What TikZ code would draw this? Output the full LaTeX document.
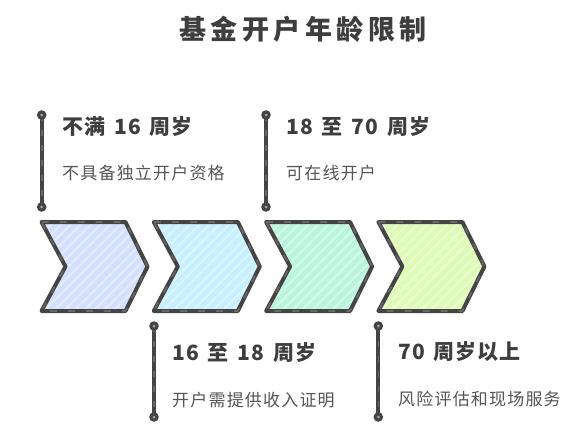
\documentclass[tikz,border=0pt]{standalone}
\usepackage{fontspec}
\setmainfont{Noto Sans CJK SC}
\newfontfamily\headfont[LetterSpace=5]{Noto Sans CJK SC}
\newfontfamily\subfont[LetterSpace=7]{Noto Sans CJK SC}
\usetikzlibrary{patterns.meta}
\definecolor{ink}{HTML}{444444}
\definecolor{inklight}{HTML}{686868}
\definecolor{txt}{HTML}{3E3E3E}
\definecolor{subtxt}{HTML}{555555}
\definecolor{cA}{HTML}{D3DFFF}
\definecolor{cB}{HTML}{C6EFFF}
\definecolor{cC}{HTML}{B8F5DC}
\definecolor{cD}{HTML}{DEFBB5}
\newcommand\gap{\hspace{9pt}}
\tikzset{
  chevline/.style={draw=ink, line width=4pt, line join=round, line cap=round},
  chevdash/.style={draw=inklight, line width=1.6pt, dash pattern=on 7pt off 11pt},
  barline/.style={draw=ink, line width=4pt},
  bardash/.style={draw=inklight, line width=1.6pt, dash pattern=on 6pt off 9pt},
  headtxt/.style={anchor=west, inner sep=0pt, text=txt, font=\headfont\bfseries\fontsize{21}{24}\selectfont},
  subtext/.style={anchor=west, inner sep=0pt, text=subtxt, font=\subfont\fontsize{17}{20}\selectfont},
  titletxt/.style={inner sep=0pt, text=txt, font=\bfseries\fontsize{27}{32}\selectfont},
}
\begin{document}
\begin{tikzpicture}[x=1pt,y=-1pt]
\useasboundingbox (0,0) rectangle (585,444);
\fill[white] (0,0) rectangle (585,444);

\node[titletxt] (title) at (303,29) {基\,金\,开\,户\,年\,龄\,限\,制};

\foreach \i/\c in {0/cA,1/cB,2/cC,3/cD}{
  \pgfmathsetmacro\xo{41.5+112.3*\i}
  \fill[\c] (\xo+4,224) -- ++(80,0) -- ++(21,42.5) -- ++(-21,42.5) -- ++(-80,0) -- ++(22,-42.5) -- cycle;
  \fill[pattern={Lines[angle=45,distance=7pt,line width=2.2pt]}, pattern color=white, opacity=0.4]
     (\xo+4,224) -- ++(80,0) -- ++(21,42.5) -- ++(-21,42.5) -- ++(-80,0) -- ++(22,-42.5) -- cycle;
  \draw[chevline] (\xo,222) -- ++(84,0) -- ++(22,44.5) -- ++(-22,44.5) -- ++(-84,0) -- ++(24,-44.5) -- cycle;
  \draw[chevdash] (\xo,222) -- ++(84,0) -- ++(22,44.5) -- ++(-22,44.5) -- ++(-84,0) -- ++(24,-44.5) -- cycle;
}

% bars
\coordinate (b1t) at (41.7,115); \coordinate (b1b) at (41.7,207);
\coordinate (b2t) at (266,115);  \coordinate (b2b) at (266,207);
\coordinate (b3t) at (154,326);  \coordinate (b3b) at (154,417);
\coordinate (b4t) at (378.3,326);\coordinate (b4b) at (378.3,417);
\foreach \n in {1,2,3,4}{
  \draw[barline] (b\n t) -- (b\n b);
  \draw[bardash] (b\n t) -- (b\n b);
  \fill[ink] (b\n t) circle (4.8);
  \fill[ink] (b\n b) circle (4.8);
  \fill[inklight!60] (b\n t) circle (1.5);
  \fill[inklight!60] (b\n b) circle (1.5);
}

\node[headtxt] (h1) at (62,127) {不满{\gap}16{\gap}周岁};
\node[subtext] (s1) at (62,173) {不具备独立开户资格};
\node[headtxt] (h2) at (286,127) {18{\gap}至{\gap}70{\gap}周岁};
\node[subtext] (s2) at (286,173) {可在线开户};
\node[headtxt] (h3) at (172,353) {16{\gap}至{\gap}18{\gap}周岁};
\node[subtext] (s3) at (172,400) {开户需提供收入证明};
\node[headtxt] (h4) at (398,352) {70{\gap}周岁以上};
\node[subtext] (s4) at (398,399) {风险评估和现场服务};
\end{tikzpicture}
\end{document}
